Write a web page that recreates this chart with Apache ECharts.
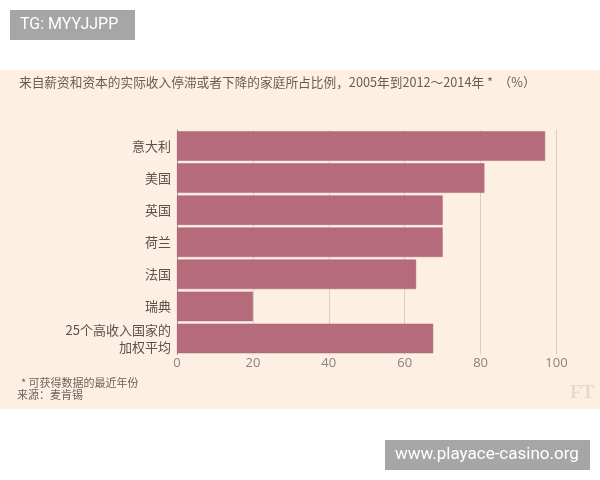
<!DOCTYPE html>
<html>
<head>
<meta charset="utf-8">
<script src="https://cdn.jsdelivr.net/npm/echarts@6/dist/echarts.min.js"></script>
<style>
html,body{margin:0;padding:0;background:#fff;}
#chart{width:600px;height:480px;}
</style>
</head>
<body>
<div id="chart"></div>
<script>
var categories = ['意大利', '美国', '英国', '荷兰', '法国', '瑞典', '25个高收入国家的\n加权平均'];
var values = [97, 81, 70, 70, 63, 20, 67.5];
var xTicks = [0, 20, 40, 60, 80, 100];
var titleText = '来自薪资和资本的实际收入停滞或者下降的家庭所占比例，2005年到2012～2014年 *  （%）';
var note1 = '* 可获得数据的最近年份';
var note2 = '来源：麦肯锡';

var cjk = '"Noto Sans CJK SC", "Noto Sans", sans-serif';
var chart = echarts.init(document.getElementById('chart'), null, {renderer: 'canvas'});
chart.setOption({
  backgroundColor: '#ffffff',
  animation: false,
  graphic: [
    {type: 'rect', z: -10, shape: {x: 0, y: 70, width: 600, height: 339}, style: {fill: '#fdf0e3'}},
    {type: 'rect', shape: {x: 10, y: 10, width: 125, height: 30}, style: {fill: '#a6a6a6'}},
    {type: 'text', x: 20, y: 25, style: {text: 'TG: MYYJJPP', fill: '#ffffff', font: '16px Roboto, "Liberation Sans", sans-serif', verticalAlign: 'middle'}},
    {type: 'rect', shape: {x: 385, y: 440, width: 205, height: 30}, style: {fill: '#a6a6a6'}},
    {type: 'text', x: 395, y: 455, style: {text: 'www.playace-casino.org', fill: '#ffffff', font: '17px Roboto, "Liberation Sans", sans-serif', verticalAlign: 'middle'}},
    {type: 'text', x: 19, y: 82, style: {text: titleText, fill: '#685c54', font: '12.7px ' + cjk, verticalAlign: 'middle'}},
    {type: 'text', x: 21, y: 383, style: {text: note1, fill: '#6e625a', font: '11px ' + cjk, verticalAlign: 'middle'}},
    {type: 'text', x: 17, y: 395, style: {text: note2, fill: '#6e625a', font: '11px ' + cjk, verticalAlign: 'middle'}},
    {type: 'text', x: 570, y: 393, style: {text: 'FT', fill: '#e6dacd', font: 'bold 19px "Liberation Serif", serif', verticalAlign: 'middle'}}
  ],
  grid: {left: 177, right: 43.5, top: 130, bottom: 125.5, containLabel: false},
  xAxis: {
    type: 'value', min: 0, max: 100, interval: 20,
    axisLine: {show: false}, axisTick: {show: false},
    splitLine: {show: true, lineStyle: {color: '#dccfc2', width: 1}},
    axisLabel: {color: '#8c8279', fontSize: 13, fontFamily: '"Open Sans", sans-serif', margin: 2,
      formatter: function (v) { return xTicks.indexOf(v) >= 0 ? String(v) : ''; }}
  },
  yAxis: {
    type: 'category', data: categories, inverse: true,
    axisLine: {show: true, lineStyle: {color: '#9e948b', width: 1}},
    axisTick: {show: false},
    axisLabel: {color: '#5b514b', fontSize: 13, fontFamily: cjk, margin: 6, lineHeight: 17, align: 'right'}
  },
  series: [{
    type: 'bar', data: values, barCategoryGap: '8%',
    itemStyle: {color: '#b66b7d', borderColor: '#a9627a', borderWidth: 0.5}
  }]
});
</script>
</body>
</html>
